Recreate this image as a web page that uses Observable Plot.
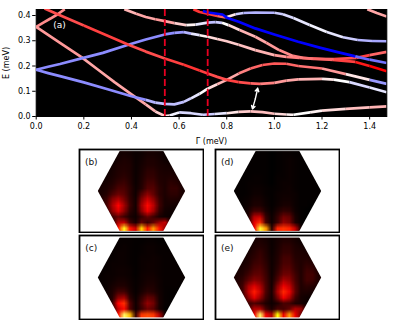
<!DOCTYPE html>
<html><head><meta charset="utf-8">
<script src="https://cdn.jsdelivr.net/npm/d3@7"></script>
<script src="https://cdn.jsdelivr.net/npm/@observablehq/plot@0.6"></script>
<style>
html,body{margin:0;padding:0;background:#fff}
#root{position:relative;width:399px;height:332px;overflow:hidden}
#root>div{position:absolute}
svg{display:block;font-family:"DejaVu Sans"}
</style></head><body><div id="root"></div>
<script>
const bandA = {x:[0,.05,.1,.19,.26,.33,.4,.46,.5,.54,.56,.6,.65,.7,.75,.8,.85,.9,.95,1,1.05,1.08,1.15,1.2,1.3,1.4,1.472],
 e:[.355,.323,.292,.235,.185,.135,.088,.048,.02,.002,.004,.016,.013,.007,.01,.013,.018,.02,.017,.011,.008,.007,.016,.023,.03,.036,.04],
 c:[.4,.4,.4,.35,.35,.35,.35,.3,.2,.1,-.05,-.15,-.15,-.2,-.1,.1,.2,.25,.25,.15,.05,0,.05,.15,.25,.3,.3]};
const bandRise = {x:[0,.03,.06,.09,.12],e:[.355,.372,.388,.405,.425],c:[.45,.45,.45,.45,.45]};
const bandB = {x:[0,.05,.1,.2,.3,.4,.46,.5,.54,.58,.62,.65,.686,.72,.76,.8,.85,.9,.95,1,1.05,1.1,1.2,1.3,1.4,1.472],
 e:[.185,.172,.16,.135,.108,.08,.066,.055,.05,.048,.058,.072,.09,.11,.128,.145,.17,.19,.204,.21,.209,.2,.19,.168,.145,.129],
 c:[-.45,-.45,-.45,-.45,-.45,-.45,-.3,-.25,-.25,-.25,-.2,-.1,0,.15,.3,.35,.5,.6,.65,.65,.6,.55,.4,.1,-.4,-.65]};
const bandC = {x:[.035,.09,.2,.3,.39,.46,.54,.62,.686,.72,.76,.8,.85,.9,.94,1,1.05,1.1,1.2,1.25,1.315,1.4,1.472],
 e:[.428,.405,.36,.32,.283,.257,.23,.205,.182,.17,.157,.145,.136,.131,.129,.133,.142,.147,.149,.146,.136,.115,.096],
 c:[.7,.7,.75,.75,.7,.7,.75,.8,.75,.7,.7,.75,.7,.6,.5,.4,.35,.3,.1,0,-.15,-.1,0]};
const bandD = {x:[0,.05,.1,.19,.28,.39,.46,.54,.58,.62,.65,.686,.72,.76,.8,.85,.92,1,1.05,1.105,1.17,1.245,1.34,1.4,1.472],
 e:[.185,.197,.208,.23,.252,.285,.305,.325,.331,.334,.328,.322,.316,.307,.298,.284,.263,.243,.236,.232,.229,.224,.216,.2,.179],
 c:[-.45,-.45,-.45,-.45,-.45,-.45,-.45,-.45,-.4,-.3,-.1,.05,.15,.2,.2,.25,.3,.4,.5,.6,.6,.75,.9,1,1]};
const bandE = {x:[.37,.42,.46,.5,.54,.58,.63,.669,.72,.753,.78,.807,.854,.92,.966,1.02,1.078,1.12,1.162,1.25,1.344,1.4,1.472],
 e:[.425,.407,.394,.385,.378,.37,.362,.364,.372,.374,.371,.362,.343,.316,.292,.263,.24,.232,.228,.227,.232,.243,.256],
 c:[.3,.35,.35,.4,.35,.2,.05,-.1,-.25,-.2,0,.15,.3,.35,.4,.45,.5,.55,.6,.7,.75,.6,.5]};
const bandF = {x:[.66,.686,.72,.76,.795,.837,.87,.92,1,1.036,1.08,1.148,1.22,1.288,1.35,1.41,1.472],
 e:[.425,.414,.407,.398,.392,.405,.41,.412,.411,.405,.39,.362,.335,.314,.303,.299,.298],
 c:[.8,.8,.75,.6,.1,-.2,-.3,-.3,-.2,-.15,-.1,-.05,-.1,-.2,-.3,-.35,-.35]};
const bandG = {x:[.7,.723,.782,.803,.85,.92,1,1.1,1.194,1.27,1.34,1.4,1.472],
 e:[.418,.412,.404,.39,.375,.349,.325,.296,.272,.254,.238,.225,.212],
 c:[-1,-1,-1,-1,-1,-1,-1,-1,-1,-1,-.6,-.55,-.55]};
const bandH = {x:[1.39,1.43,1.472],e:[.425,.41,.396],c:[.35,.35,.35]};
const bands = [bandRise,bandA,bandB,bandD,bandC,bandE,bandF,bandH,bandG];
const cuts = [.54,.72];
const xTicks = [0,.2,.4,.6,.8,1,1.2,1.4];
const yTicks = [0,.1,.2,.3,.4];
const arrowFrom = {x:.92,e:.07}, arrowEnds = [{x:.93,e:.112},{x:.908,e:.03}];

const gridW = 15, gridH = 14;
const panelB = [
0,0,0,5,6,5,3,4,6,6,5,3,0,0,0,
2,2,3,6,8,7,3,5,8,8,6,4,3,2,2,
2,3,5,8,9,8,3,6,9,9,7,6,5,3,2,
3,4,6,9,10,8,3,7,11,11,8,7,7,5,3,
4,5,7,10,11,9,3,8,12,12,9,8,9,8,4,
5,6,9,12,13,10,3,9,14,14,10,8,11,10,6,
6,8,11,15,15,11,4,10,16,16,11,8,12,12,7,
7,10,15,19,17,11,4,16,23,18,11,8,11,11,7,
7,13,23,28,21,12,5,22,31,24,13,7,9,8,6,
6,14,27,37,26,13,5,26,38,29,14,7,6,5,4,
4,11,24,33,23,11,5,23,35,26,12,5,4,3,2,
2,6,13,18,13,7,4,12,18,13,7,4,3,2,1,
0,2,6,28,30,14,6,18,12,18,25,30,10,2,0,
0,0,0,40,78,40,30,68,40,60,40,25,0,0,0];
const panelD = [
0,0,0,1,1,1,0,1,2,2,1,1,0,0,0,
1,1,1,1,1,1,0,1,2,3,2,1,1,0,0,
1,1,1,1,1,1,0,1,2,3,2,1,1,1,1,
1,1,1,1,1,1,0,1,2,3,2,1,1,1,1,
1,1,1,2,2,1,0,2,2,3,2,1,1,1,1,
1,1,2,2,2,1,0,2,3,3,2,1,1,1,1,
1,1,2,3,3,2,1,2,3,4,2,1,1,1,1,
1,1,2,4,4,2,1,3,4,4,3,1,1,1,1,
1,2,3,6,6,3,1,3,5,5,3,1,1,1,1,
1,2,4,8,8,4,1,4,7,7,3,1,1,0,0,
1,2,7,14,14,7,2,8,12,11,4,1,0,0,0,
0,2,9,28,30,12,3,12,20,18,7,1,0,0,0,
0,1,8,34,44,14,3,13,24,21,8,1,0,0,0,
0,0,0,35,80,60,10,42,45,42,30,5,0,0,0];
const panelC = [
0,0,0,2,2,2,1,1,2,2,1,1,0,0,0,
1,1,2,2,3,2,1,2,3,3,2,2,1,1,1,
1,2,2,3,3,2,1,2,3,3,2,2,2,1,1,
2,2,2,3,3,2,1,3,3,4,3,2,2,1,1,
2,2,3,3,3,2,1,3,4,4,3,2,2,2,1,
2,2,3,4,4,3,1,3,4,4,3,2,2,2,2,
2,3,3,4,4,3,1,4,5,5,3,2,2,2,2,
2,3,4,6,6,4,2,4,6,6,4,2,2,2,2,
2,3,6,9,9,5,2,5,8,8,4,2,2,2,1,
2,4,8,14,14,7,2,7,11,10,5,2,1,1,1,
1,3,10,23,26,11,3,12,18,16,6,2,1,1,0,
1,3,12,37,44,16,4,15,24,20,7,2,1,0,0,
0,1,9,30,38,16,4,13,20,17,6,1,0,0,0,
0,0,0,40,85,65,12,45,48,45,28,5,0,0,0];
const panelE = [
0,0,0,6,8,6,3,6,9,9,6,4,0,0,0,
3,3,4,8,10,8,3,7,11,11,8,6,4,3,2,
3,4,6,10,12,9,3,8,12,12,9,8,7,4,3,
4,5,8,11,13,10,4,9,14,14,10,9,9,7,4,
5,6,9,13,14,11,4,10,15,15,11,9,11,10,5,
6,8,11,15,16,12,4,11,17,17,12,9,13,12,7,
7,10,14,18,18,13,4,13,20,20,14,9,14,14,8,
8,12,18,23,21,14,5,16,27,24,15,9,14,13,8,
8,14,27,33,27,15,5,23,35,30,17,9,11,10,7,
7,14,30,41,31,15,6,27,43,35,18,8,8,6,4,
5,11,24,34,25,13,5,21,36,28,14,6,4,3,2,
3,6,13,16,13,8,4,9,15,14,9,7,4,2,1,
0,3,12,28,28,14,7,15,14,18,28,25,6,1,0,
0,0,0,35,85,35,28,75,35,60,35,20,0,0,0];
const panelLabels = ["(b)","(c)","(d)","(e)"];
const hexCornerX = [-1.1,-1,-.5,-.5,-1.1];
const hexCornerY = [0,0,1,1.1,1.1];

const root = document.getElementById("root");
function place(svg,left,top){const d=document.createElement("div");d.style.left=left+"px";d.style.top=top+"px";d.appendChild(svg);root.appendChild(d);}

const rows = bands.flatMap((b,k)=>b.x.map((x,i)=>({band:k,x,e:b.e[i],c:b.c[i]})));
const main = Plot.plot({
  width:399,height:145,marginLeft:35.7,marginRight:12.7,marginTop:9,marginBottom:29,
  style:{fontFamily:"DejaVu Sans",fontSize:"8px",color:"#000",background:"transparent"},
  x:{domain:[0,1.472]},y:{domain:[0,.4238]},
  color:{type:"linear",domain:[-1,0,1],range:["#0000ff","#ffffff","#ff0000"]},
  marks:[
    Plot.frame({fill:"black",stroke:"black"}),
    Plot.axisX({ticks:xTicks,tickFormat:".1f",tickSize:3.5,tickPadding:3,label:"Γ (meV)",labelAnchor:"center",labelArrow:"none",labelOffset:27,fontSize:8}),
    Plot.axisY({ticks:yTicks,tickFormat:".1f",tickSize:3.5,tickPadding:2,label:"E (meV)",labelAnchor:"center",labelArrow:"none",labelOffset:33,fontSize:8}),
    Plot.line(rows,{x:"x",y:"e",z:"band",stroke:"c",strokeWidth:2.7,clip:true,strokeLinecap:"butt"}),
    Plot.ruleX(cuts,{stroke:"#e60020",strokeWidth:1.8,strokeDasharray:"7,3"}),
    Plot.arrow(arrowEnds,{x1:arrowFrom.x,y1:arrowFrom.e,x2:"x",y2:"e",stroke:"white",strokeWidth:1.4,headLength:6}),
    Plot.text(["(a)"],{x:.098,y:.36,text:d=>d,fill:"white",fontSize:9})
  ]
});
place(main,0,0);

function panel(values,label,left,top,h){
  const corners = [[1,1],[-1,1],[1,-1],[-1,-1]].flatMap(([sx,sy],k)=>hexCornerX.map((x,i)=>({k,x:x*sx,y:hexCornerY[i]*sy})));
  const svg = Plot.plot({
    width:126,height:h,margin:1,
    style:{fontFamily:"DejaVu Sans",background:"transparent"},
    x:{axis:null,domain:[-1.419,1.419]},y:{axis:null,domain:[-(h-2)/2/39.9,(h-2)/2/39.9]},
    color:{type:"linear",domain:[0,10,20,37,75,100],range:["#000000","#240000","#700000","#ff0000","#ffff00","#ffffff"]},
    marks:[
      Plot.raster(values,{width:gridW,height:gridH,x1:-1,x2:1,y1:1,y2:-1,imageRendering:"auto"}),
      Plot.line(corners,{x:"x",y:"y",z:"k",fill:"white",stroke:null}),
      Plot.frame({stroke:"black",strokeWidth:1.8}),
      Plot.text([label],{x:-1.15,y:(h-2)/2/39.9-.31,text:d=>d,fontSize:9,fill:"#111"})
    ]
  });
  place(svg,left,top);
}
panel(panelB,panelLabels[0],78,148,85);
panel(panelD,panelLabels[2],214,148,85);
panel(panelC,panelLabels[1],78,234,86);
panel(panelE,panelLabels[3],214,234,86);
</script></body></html>
